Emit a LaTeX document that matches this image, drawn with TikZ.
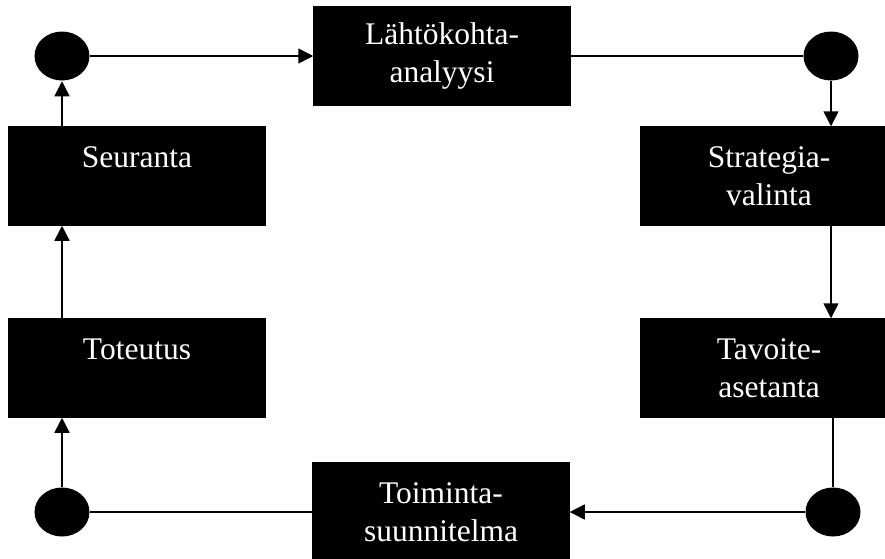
\documentclass[tikz,border=0pt]{standalone}
\usepackage{fontspec}
\setmainfont{Liberation Serif}
\usetikzlibrary{arrows.meta,shapes.geometric}

\begin{document}
\begin{tikzpicture}[x=1pt,y=-1pt,line width=1.5pt,
	box/.style={fill=black,draw=black,text=white,minimum width=256pt,minimum height=98pt,
		inner sep=0pt,align=center,font=\fontsize{31.5}{37.5}\selectfont},
	dot/.style={ellipse,fill=black,minimum width=55pt,minimum height=49pt,inner sep=0pt},
	>={Triangle[length=15pt,width=15pt]}]
\useasboundingbox (0,0) rectangle (885,558);
\node[box] (lahto) at (442,56) {Lähtökohta-\\analyysi};
\node[box] (strat) at (769,176) {Strategia-\\valinta};
\node[box] (tavo) at (769,368) {Tavoite-\\asetanta};
\node[box] (toim) at (441,512) {Toiminta-\\suunnitelma};
\node[box] (tote) at (137,368) {Toteutus\\\mbox{}};
\node[box] (seur) at (137,176) {Seuranta\\\mbox{}};

\node[dot] (tl) at (62,56) {};
\node[dot] (tr) at (831,56) {};
\node[dot] (bl) at (62,512) {};
\node[dot] (br) at (833,512) {};

\path[->]	(tl) edge (lahto)
			(lahto) edge[-] (tr)
			(tr) edge (strat.north -| tr)
			(strat.south -| tr) edge (tavo.north -| tr)
			(tavo.south -| br) edge[-] (br)
			(br) edge (toim)
			(toim) edge[-] (bl)
			(bl) edge (tote.south -| bl)
			(tote.north -| bl) edge (seur.south -| bl)
			(seur.north -| bl) edge (tl)
;
\end{tikzpicture}
\end{document}
